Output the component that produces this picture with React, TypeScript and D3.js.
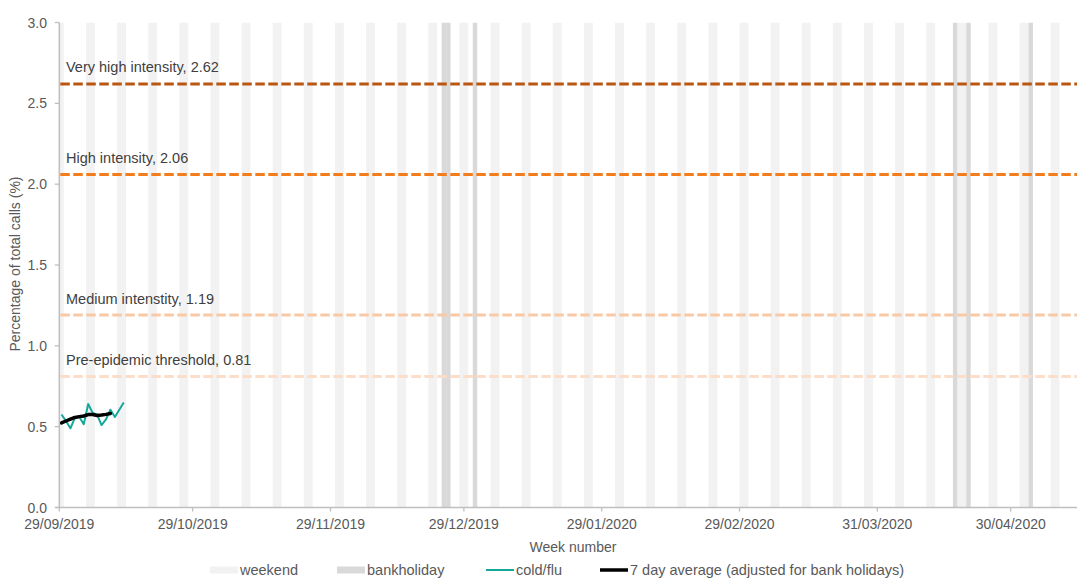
import { useEffect, useRef } from 'react';
import * as d3 from 'd3';

// dates are dd/mm/yyyy as in the source sheet
const axisStart = '29/09/2019';
const axisEnd = '15/05/2020';

const tickDates = [
  '29/09/2019', '29/10/2019', '29/11/2019', '29/12/2019',
  '29/01/2020', '29/02/2020', '31/03/2020', '30/04/2020',
];

// Saturday of each weekend band (two days wide)
const weekendSaturdays = [
  '28/09/2019', '05/10/2019', '12/10/2019', '19/10/2019', '26/10/2019',
  '02/11/2019', '09/11/2019', '16/11/2019', '23/11/2019', '30/11/2019',
  '07/12/2019', '14/12/2019', '21/12/2019', '28/12/2019',
  '04/01/2020', '11/01/2020', '18/01/2020', '25/01/2020',
  '01/02/2020', '08/02/2020', '15/02/2020', '22/02/2020', '29/02/2020',
  '07/03/2020', '14/03/2020', '21/03/2020', '28/03/2020',
  '04/04/2020', '11/04/2020', '18/04/2020', '25/04/2020',
  '02/05/2020', '09/05/2020',
];

const bankHolidays = [
  '24/12/2019', '25/12/2019', '31/12/2019',
  '17/04/2020', '20/04/2020', '04/05/2020',
];

// daily series, starting 29/09/2019
const seriesStart = '29/09/2019';
const coldFlu = [
  0.575, 0.535, 0.49, 0.555, 0.56, 0.515, 0.64, 0.585,
  0.575, 0.51, 0.545, 0.605, 0.56, 0.605, 0.65,
];
const sevenDayAvg = [
  0.523, 0.535, 0.547, 0.557, 0.562, 0.566, 0.575, 0.575,
  0.569, 0.572, 0.576, 0.581,
];

const thresholdNames = [
  'Very high intensity', 'High intensity', 'Medium intenstity', 'Pre-epidemic threshold',
];
const thresholdValues = [2.62, 2.06, 1.19, 0.81];
const thresholdColors = ['#BA560F', '#F57C1A', '#F9C9A6', '#FBDDC8'];

const yTicks = [0, 0.5, 1.0, 1.5, 2.0, 2.5, 3.0];

const legendItems = [
  { label: 'weekend', kind: 'rect', color: '#F2F2F2' },
  { label: 'bankholiday', kind: 'rect', color: '#D9D9D9' },
  { label: 'cold/flu', kind: 'line', color: '#14A99B' },
  { label: '7 day average (adjusted for bank holidays)', kind: 'line', color: '#000000' },
];

const W = 1077;
const H = 578;
const FONT = '"Liberation Sans", Arial, sans-serif';

export default function App() {
  const svgRef = useRef<SVGSVGElement>(null);

  useEffect(() => {
    if (!svgRef.current) return;
    const svg = d3.select(svgRef.current);
    svg.selectAll('*').remove();

    const parse = d3.timeParse('%d/%m/%Y');
    const fmt = d3.timeFormat('%d/%m/%Y');
    const left = 59.3;
    const right = 1077.4;
    const top = 22.5;
    const bottom = 507.5;

    const x = d3.scaleTime()
      .domain([parse(axisStart)!, parse(axisEnd)!])
      .range([left, right]);
    const y = d3.scaleLinear().domain([0, 3]).range([bottom, top]);

    const dayW = x(d3.timeDay.offset(parse(axisStart)!, 1)) - x(parse(axisStart)!);

    svg.append('defs').append('clipPath').attr('id', 'plot')
      .append('rect')
      .attr('x', left).attr('y', top)
      .attr('width', W - left).attr('height', bottom - top);

    const plot = svg.append('g').attr('clip-path', 'url(#plot)');

    // weekend bands
    plot.selectAll('rect.wk')
      .data(weekendSaturdays.map(s => parse(s)!))
      .join('rect')
      .attr('class', 'wk')
      .attr('x', d => x(d))
      .attr('width', d => x(d3.timeDay.offset(d, 2)) - x(d))
      .attr('y', top)
      .attr('height', bottom - top)
      .attr('fill', '#F2F2F2');

    // bank holidays
    plot.selectAll('rect.bh')
      .data(bankHolidays.map(s => parse(s)!))
      .join('rect')
      .attr('class', 'bh')
      .attr('x', d => x(d))
      .attr('width', d => x(d3.timeDay.offset(d, 1)) - x(d))
      .attr('y', top)
      .attr('height', bottom - top)
      .attr('fill', '#D9D9D9');

    // thresholds
    thresholdValues.forEach((v, i) => {
      plot.append('line')
        .attr('x1', left + 1).attr('x2', W)
        .attr('y1', y(v)).attr('y2', y(v))
        .attr('stroke', thresholdColors[i])
        .attr('stroke-width', 3)
        .attr('stroke-dasharray', '9.5 3.5');
      svg.append('text')
        .attr('x', 66)
        .attr('y', y(v) - 11.5)
        .attr('font-family', FONT)
        .attr('font-size', 14.5)
        .attr('fill', '#404040')
        .text(`${thresholdNames[i]}, ${v.toFixed(2)}`);
    });

    // series lines, drawn at the middle of each day
    const s0 = parse(seriesStart)!;
    const px = (i: number) => x(d3.timeDay.offset(s0, i)) + dayW / 2;
    const line = d3.line<number>().x((_, i) => px(i)).y(d => y(d));

    plot.append('path')
      .attr('d', line(coldFlu))
      .attr('fill', 'none')
      .attr('stroke', '#14A99B')
      .attr('stroke-width', 2)
      .attr('stroke-linejoin', 'round');

    plot.append('path')
      .attr('d', line(sevenDayAvg))
      .attr('fill', 'none')
      .attr('stroke', '#000000')
      .attr('stroke-width', 3.5)
      .attr('stroke-linejoin', 'round')
      .attr('stroke-linecap', 'round');

    // y axis
    const axisColor = '#BFBFBF';
    svg.append('line')
      .attr('x1', left).attr('x2', left)
      .attr('y1', top).attr('y2', bottom)
      .attr('stroke', axisColor).attr('stroke-width', 1.5);
    const yg = svg.append('g');
    yTicks.forEach(t => {
      yg.append('line')
        .attr('x1', left - 4.5).attr('x2', left)
        .attr('y1', y(t)).attr('y2', y(t))
        .attr('stroke', axisColor).attr('stroke-width', 1.3);
      yg.append('text')
        .attr('x', 47)
        .attr('y', y(t))
        .attr('dy', '0.36em')
        .attr('text-anchor', 'end')
        .attr('font-family', FONT)
        .attr('font-size', 14)
        .attr('fill', '#595959')
        .text(t.toFixed(1));
    });

    svg.append('text')
      .attr('transform', `translate(20,264) rotate(-90)`)
      .attr('text-anchor', 'middle')
      .attr('font-family', FONT)
      .attr('font-size', 14)
      .attr('fill', '#595959')
      .text('Percentage of total calls (%)');

    // x axis
    svg.append('line')
      .attr('x1', left - 4).attr('x2', W)
      .attr('y1', bottom).attr('y2', bottom)
      .attr('stroke', axisColor).attr('stroke-width', 1.5);
    const xg = svg.append('g');
    tickDates.map(s => parse(s)!).forEach(d => {
      xg.append('line')
        .attr('x1', x(d)).attr('x2', x(d))
        .attr('y1', bottom).attr('y2', bottom + 4)
        .attr('stroke', axisColor).attr('stroke-width', 1.3);
      xg.append('text')
        .attr('x', x(d))
        .attr('y', 529)
        .attr('text-anchor', 'middle')
        .attr('font-family', FONT)
        .attr('font-size', 14)
        .attr('fill', '#595959')
        .text(fmt(d));
    });

    svg.append('text')
      .attr('x', 573)
      .attr('y', 552)
      .attr('text-anchor', 'middle')
      .attr('font-family', FONT)
      .attr('font-size', 14)
      .attr('fill', '#595959')
      .text('Week number');

    // legend
    const legendX = [210, 337, 486, 600];
    const lg = svg.append('g');
    legendItems.forEach((item, i) => {
      const lx = legendX[i];
      if (item.kind === 'rect') {
        lg.append('rect')
          .attr('x', lx).attr('y', 566.5)
          .attr('width', 28).attr('height', 7)
          .attr('fill', item.color);
      } else {
        lg.append('line')
          .attr('x1', lx).attr('x2', lx + 28)
          .attr('y1', 570).attr('y2', 570)
          .attr('stroke', item.color)
          .attr('stroke-width', i === 3 ? 3.5 : 2);
      }
      lg.append('text')
        .attr('x', lx + 30)
        .attr('y', 574.5)
        .attr('font-family', FONT)
        .attr('font-size', 14.5)
        .attr('fill', '#595959')
        .text(item.label);
    });
  }, []);

  return (
    <svg
      ref={svgRef}
      width={W}
      height={H}
      style={{ position: 'absolute', left: 0, top: 0, background: '#fff' }}
    />
  );
}
